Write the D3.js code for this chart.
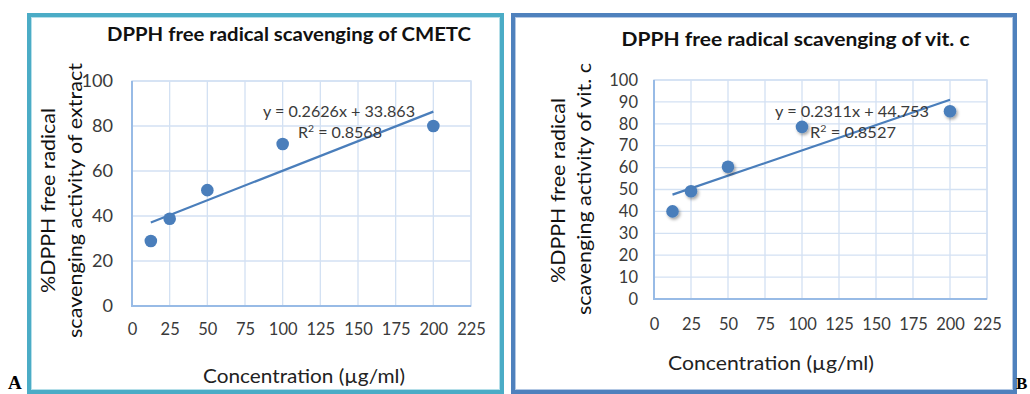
<!DOCTYPE html>
<html>
<head>
<meta charset="utf-8">
<script src="https://cdn.jsdelivr.net/npm/d3@7"></script>
<style>
  html, body { margin: 0; padding: 0; background: #fff; }
  svg { display: block; font-family: Lato, "Open Sans", sans-serif; }
</style>
</head>
<body>
<svg id="chart" width="1030" height="394"></svg>
<script>
// Concentrations tested (µg/ml)
const concentrations = [12.5, 25, 50, 100, 200];
// % DPPH scavenging of the CMETC extract
const extractValues = [28.9, 38.8, 51.5, 72.0, 80.0];
// % DPPH scavenging of vitamin C
const vitcValues = [40.0, 49.2, 60.4, 78.6, 85.7];
// Linear trendlines (slope, intercept, R²)
const extractFit = [0.2626, 33.863, 0.8568];
const vitcFit = [0.2311, 44.753, 0.8527];
// Axis ticks
const xTicks = [0, 25, 50, 75, 100, 125, 150, 175, 200, 225];
const extractYTicks = [0, 20, 40, 60, 80, 100];
const vitcYTicks = [0, 10, 20, 30, 40, 50, 60, 70, 80, 90, 100];

const svg = d3.select("#chart");
const BLUE = "#4a7ebb";
const GRID = "#d3e1f3";
const AXIS = "#98bbe6";
const LABEL = "#3a3a3a";

const defs = svg.append("defs");
const shadow = defs.append("filter").attr("id", "dotShadow")
  .attr("x", "-50%").attr("y", "-50%").attr("width", "200%").attr("height", "200%");
shadow.append("feDropShadow").attr("dx", 1.5).attr("dy", 2).attr("stdDeviation", 1.4)
  .attr("flood-color", "#000").attr("flood-opacity", 0.35);

// squeeze or stretch a text element to a given width
function fit(sel, w) {
  sel.attr("textLength", w).attr("lengthAdjust", "spacingAndGlyphs");
  return sel;
}
function widen(sel, k) {
  sel.each(function () {
    const t = d3.select(this);
    t.attr("textLength", this.getComputedTextLength() * k).attr("lengthAdjust", "spacingAndGlyphs");
  });
}

function panel(cfg) {
  const g = svg.append("g");

  // frame
  g.append("rect").attr("x", cfg.frame[0]).attr("y", cfg.frame[1])
    .attr("width", cfg.frame[2]).attr("height", cfg.frame[3])
    .attr("fill", "#fff").attr("stroke", cfg.frameColor).attr("stroke-width", 4);
  g.append("rect").attr("x", cfg.frame[0] + 2.5).attr("y", cfg.frame[1] + 2.5)
    .attr("width", cfg.frame[2] - 5).attr("height", cfg.frame[3] - 5)
    .attr("fill", "none").attr("stroke", cfg.frameInner).attr("stroke-width", 1);

  const x = d3.scaleLinear().domain([0, 225]).range(cfg.xRange);
  const y = d3.scaleLinear().domain([0, 100]).range(cfg.yRange);

  // grid
  g.append("g").selectAll("line").data(xTicks).join("line")
    .attr("x1", d => x(d)).attr("x2", d => x(d))
    .attr("y1", y(0)).attr("y2", y(100))
    .attr("stroke", GRID).attr("stroke-width", 1.3);
  g.append("g").selectAll("line").data(cfg.yTicks).join("line")
    .attr("x1", x(0)).attr("x2", x(225))
    .attr("y1", d => y(d)).attr("y2", d => y(d))
    .attr("stroke", GRID).attr("stroke-width", 1.3);
  // plot outline
  g.append("rect").attr("x", x(0)).attr("y", y(100))
    .attr("width", x(225) - x(0)).attr("height", y(0) - y(100))
    .attr("fill", "none").attr("stroke", GRID).attr("stroke-width", 1.5);
  g.append("path")
    .attr("d", `M${x(0)},${y(100)}V${y(0)}H${x(225)}`)
    .attr("fill", "none").attr("stroke", AXIS).attr("stroke-width", 2);

  // axes (labels only)
  const xAxis = g.append("g").attr("transform", `translate(0,${y(0)})`)
    .call(d3.axisBottom(x).tickValues(xTicks).tickSize(0).tickPadding(cfg.xPad));
  const yAxis = g.append("g").attr("transform", `translate(${x(0)},0)`)
    .call(d3.axisLeft(y).tickValues(cfg.yTicks).tickSize(0).tickPadding(cfg.yPad));
  [xAxis, yAxis].forEach(a => {
    a.attr("font-family", null);
    a.select(".domain").remove();
    a.selectAll("text").attr("fill", LABEL).attr("font-size", 16.5);
  });
  widen(xAxis.selectAll("text"), cfg.xTickStretch);
  widen(yAxis.selectAll("text"), cfg.yTickStretch);

  // trendline
  const [m, b, r2] = cfg.fit;
  const x0 = d3.min(cfg.xs), x1 = d3.max(cfg.xs);
  g.append("line")
    .attr("x1", x(x0)).attr("y1", y(m * x0 + b))
    .attr("x2", x(x1)).attr("y2", y(m * x1 + b))
    .attr("stroke", BLUE).attr("stroke-width", 2.2);

  // data points
  g.append("g").selectAll("circle").data(cfg.xs.map((d, i) => [d, cfg.ys[i]])).join("circle")
    .attr("cx", d => x(d[0])).attr("cy", d => y(d[1])).attr("r", 6.3)
    .attr("fill", BLUE)
    .attr("filter", cfg.shadow ? "url(#dotShadow)" : null);

  // equation
  const eq = g.append("text").attr("x", cfg.eqPos[0]).attr("y", cfg.eqPos[1])
    .attr("fill", LABEL).attr("font-size", 15.5)
    .text(`y = ${m}x + ${b}`);
  fit(eq, cfg.eqW);
  const rt = g.append("text").attr("x", cfg.r2Pos[0]).attr("y", cfg.r2Pos[1])
    .attr("fill", LABEL).attr("font-size", 15.5);
  rt.append("tspan").text("R");
  rt.append("tspan").attr("dy", -6).attr("font-size", 10).text("2");
  rt.append("tspan").attr("dy", 6).text(` = ${r2}`);
  fit(rt, cfg.r2W);

  // title
  fit(g.append("text").attr("x", cfg.title[1]).attr("y", cfg.title[2])
    .attr("text-anchor", "middle").attr("font-weight", "bold").attr("font-size", 19.5)
    .attr("fill", "#111").text(cfg.title[0]), cfg.title[3]);

  // x axis title
  fit(g.append("text").attr("x", cfg.xTitle[1]).attr("y", cfg.xTitle[2])
    .attr("text-anchor", "middle").attr("font-size", 20).attr("fill", "#222")
    .text(cfg.xTitle[0]), cfg.xTitle[3]);

  // y axis title, two lines
  cfg.yTitle.forEach(([txt, bx, cy, w]) => {
    fit(g.append("text").attr("transform", `translate(${bx},${cy}) rotate(-90)`)
      .attr("text-anchor", "middle").attr("font-size", 20).attr("fill", "#111")
      .text(txt), w);
  });
}

panel({
  frame: [29, 15, 473, 377], frameColor: "#4bacc6", frameInner: "#b5dfe9",
  xRange: [132, 471], yRange: [306, 81],
  yTicks: extractYTicks, xPad: 17, yPad: 19, xTickStretch: 1.0, yTickStretch: 1.1,
  xs: concentrations, ys: extractValues, fit: extractFit, shadow: false,
  eqPos: [263, 117], eqW: 152, r2Pos: [298, 138], r2W: 84,
  title: ["DPPH free radical scavenging of CMETC", 289, 41, 364],
  xTitle: ["Concentration (µg/ml)", 304, 383, 202],
  yTitle: [["%DPPH free  radical", 55, 200.5, 185], ["scavenging activity of extract", 82, 200.5, 275]]
});

panel({
  frame: [513, 15, 502, 377], frameColor: "#4f81bd", frameInner: "#b3c8e4",
  xRange: [654, 987], yRange: [299, 80],
  yTicks: vitcYTicks, xPad: 19, yPad: 16, xTickStretch: 1.0, yTickStretch: 1.0,
  xs: concentrations, ys: vitcValues, fit: vitcFit, shadow: true,
  eqPos: [775, 117], eqW: 154, r2Pos: [810, 138], r2W: 86,
  title: ["DPPH free radical scavenging of vit. c", 795.5, 46, 348],
  xTitle: ["Concentration (µg/ml)", 771, 370, 206],
  yTitle: [["%DPPH free radical", 565, 190.5, 185], ["scavenging activity of vit. c", 591, 189, 252]]
});

// panel letters
svg.append("text").attr("x", 8).attr("y", 389)
  .style("font-family", "'Liberation Serif', 'Times New Roman', serif")
  .attr("font-weight", "bold").attr("font-size", 19).attr("fill", "#000").text("A");
svg.append("text").attr("x", 1016).attr("y", 389)
  .style("font-family", "'Liberation Serif', 'Times New Roman', serif")
  .attr("font-weight", "bold").attr("font-size", 17).attr("fill", "#000").text("B");
</script>
</body>
</html>
